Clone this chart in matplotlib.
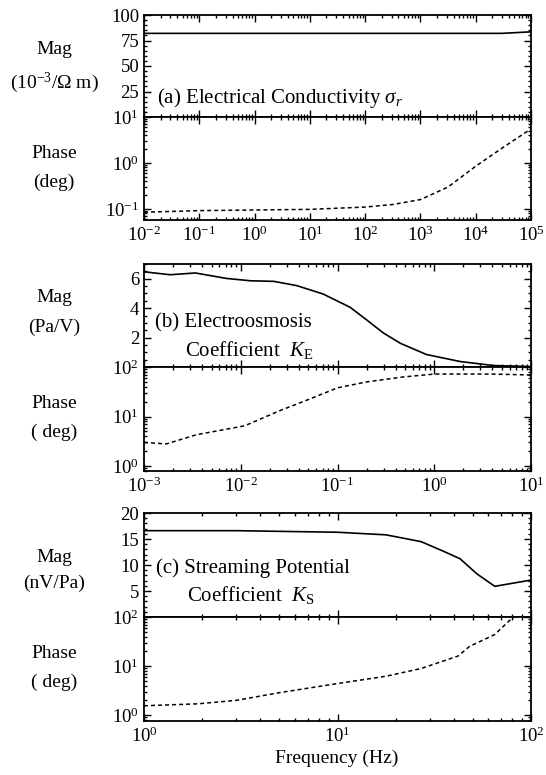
import matplotlib
matplotlib.use("Agg")
import matplotlib.pyplot as plt
from matplotlib.ticker import AutoMinorLocator, LogLocator, NullFormatter

plt.rcParams['font.family'] = ['Liberation Serif', 'DejaVu Serif']
plt.rcParams['mathtext.fontset'] = 'custom'
plt.rcParams['mathtext.rm'] = 'Liberation Serif'
plt.rcParams['mathtext.it'] = 'Liberation Serif:italic'

# (a) electrical conductivity
freq_a_mag = [1e-2, 1e4, 3e4, 1e5]
mag_a = [82, 82, 82, 83.5]
freq_a_ph = [1e-2, 1e-1, 1, 10, 100, 316, 1e3, 3160, 1e4, 31600, 1e5]
phase_a = [0.085, 0.092, 0.095, 0.098, 0.11, 0.125, 0.16, 0.3, 0.85, 2.2, 5.5]

# (b) electroosmosis coefficient
freq_b_mag = [1e-3, 1.86e-3, 3.4e-3, 7.1e-3, 1.26e-2, 2.2e-2, 3.8e-2, 7.1e-2,
              0.135, 0.2, 0.3, 0.45, 0.83, 1.86, 4.1, 10]
mag_b = [6.47, 6.27, 6.39, 6.02, 5.86, 5.82, 5.53, 4.96,
         4.06, 3.2, 2.3, 1.6, 0.85, 0.37, 0.1, 0.03]
freq_b_ph = [1e-3, 1.7e-3, 3.5e-3, 1.1e-2, 2.5e-2, 5e-2, 0.1, 0.2, 0.48, 1.0, 4.0, 10]
phase_b = [3.0, 2.8, 4.3, 6.5, 13, 22, 38, 50, 63, 72, 72, 69]

# (c) streaming potential coefficient
freq_c_mag = [1, 3, 10, 17.8, 27, 35.5, 43, 52.5, 65, 100]
mag_c = [16.6, 16.6, 16.3, 15.8, 14.5, 12.6, 11.2, 8.3, 5.9, 7.1]
freq_c_ph = [1, 1.9, 3, 5.1, 10, 17.8, 27, 42, 48, 65, 78, 82]
phase_c = [1.55, 1.7, 2.0, 2.9, 4.4, 6.2, 8.9, 16, 25, 44, 87, 100]

W, H = 546, 775
fig = plt.figure(figsize=(W / 100, H / 100), dpi=100)

def rect(top, bottom, left=144, right=531):
    return [left / W, 1 - bottom / H, (right - left) / W, (bottom - top) / H]

def style(ax):
    ax.tick_params(which='both', direction='in', top=True, right=True,
                   labelsize=13.5, width=1)
    ax.tick_params(which='major', length=5)
    ax.tick_params(which='minor', length=2.5)
    for s in ax.spines.values():
        s.set_linewidth(1.3)

def log_ticks(axis):
    axis.set_major_locator(LogLocator(base=10, numticks=30))
    axis.set_minor_locator(LogLocator(base=10, subs=range(2, 10), numticks=50))
    axis.set_minor_formatter(NullFormatter())

dash = (0, (2.6, 2.0))

panels = [
    (freq_a_mag, mag_a, freq_a_ph, phase_a, (1e-2, 1e5), (0, 100), [25, 50, 75, 100], 5,
     (10 ** -1.24, 10), (15, 117, 220)),
    (freq_b_mag, mag_b, freq_b_ph, phase_b, (1e-3, 10), (0, 7), [2, 4, 6], 4,
     (10 ** -0.1, 100), (264, 367, 471)),
    (freq_c_mag, mag_c, freq_c_ph, phase_c, (1, 100), (0, 20), [5, 10, 15, 20], 5,
     (10 ** -0.12, 100), (513, 617, 721)),
]

mag_axes = []
for fm, m, fp, p, xl, yl, yt, nmin, pl, (t, mid, b) in panels:
    axm = fig.add_axes(rect(t, mid))
    axp = fig.add_axes(rect(mid, b))
    axm.plot(fm, m, color='black', lw=1.2)
    axp.plot(fp, p, color='black', lw=1.1, linestyle=dash)
    for ax in (axm, axp):
        ax.set_xscale('log')
        log_ticks(ax.xaxis)
        ax.set_xlim(*xl)
        style(ax)
    axm.set_ylim(*yl)
    axm.set_yticks(yt)
    axm.yaxis.set_minor_locator(AutoMinorLocator(nmin))
    axm.tick_params(labelbottom=False)
    axp.set_yscale('log')
    log_ticks(axp.yaxis)
    axp.set_ylim(*pl)
    axp.tick_params(axis='x', pad=4)
    mag_axes.append(axm)

fs = 15
mag_axes[0].text(0.034, 0.19, r"(a) Electrical Conductivity $\sigma_r$",
                 transform=mag_axes[0].transAxes, fontsize=fs, va='center')
mag_axes[1].text(0.028, 0.427, "(b) Electroosmosis",
                 transform=mag_axes[1].transAxes, fontsize=fs, va='center')
mag_axes[1].text(0.106, 0.165, r"Coefficient  $K_\mathrm{E}$",
                 transform=mag_axes[1].transAxes, fontsize=fs, va='center')
mag_axes[2].text(0.031, 0.47, "(c) Streaming Potential",
                 transform=mag_axes[2].transAxes, fontsize=fs, va='center')
mag_axes[2].text(0.11, 0.21, r"Coefficient  $K_\mathrm{S}$",
                 transform=mag_axes[2].transAxes, fontsize=fs, va='center')

side_labels = [
    ("Mag", 50), (r"(10$^{-3}$/Ω m)", 83), ("Phase", 154), ("(deg)", 182),
    ("Mag", 297), ("(Pa/V)", 327), ("Phase", 403), ("( deg)", 432),
    ("Mag", 557), ("(nV/Pa)", 583), ("Phase", 653), ("( deg)", 682),
]
for txt, y in side_labels:
    fig.text(54 / W, 1 - y / H, txt, ha='center', va='center', fontsize=14)

fig.text(337 / W, 1 - 758 / H, "Frequency (Hz)", ha='center', va='center', fontsize=14)

fig.savefig("out.png", dpi=100)
